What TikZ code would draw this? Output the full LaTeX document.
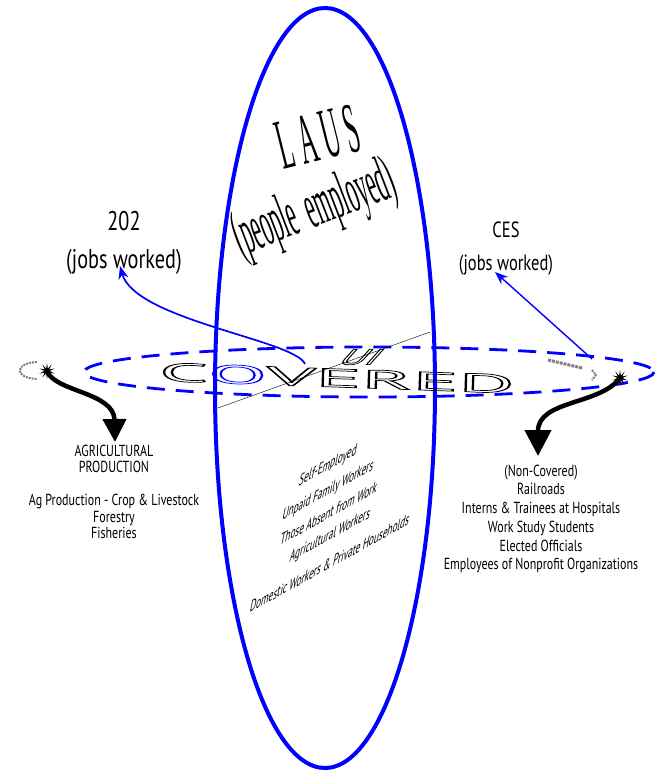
\documentclass[tikz,border=0pt]{standalone}
\usepackage{fontspec}
\setmainfont{PT Sans}
\newfontfamily\narrowsans[FakeStretch=0.75]{PT Sans}
\newfontfamily\tallserif[FakeStretch=0.34]{Liberation Serif}
\newfontfamily\slantsans[FakeStretch=0.62]{PT Sans}
\newcommand{\hollow}[1]{\special{pdf:literal 1 Tr 0.7 w}#1\special{pdf:literal 0 Tr}}
\usepackage{tikz}
\usetikzlibrary{shapes.geometric}
\usetikzlibrary{arrows.meta}

\begin{document}
\begin{tikzpicture}[x=1pt,y=-1pt,
    burst/.style={star, star points=10, star point ratio=3, fill=black, inner sep=0pt, minimum size=16pt},
    lowlabel/.style={font=\narrowsans\fontsize{16}{16.5}\selectfont, align=center},
    slanted/.style={cm={0.875,0.485,0.2,0.98,(0,0)}, font=\slantsans\fontsize{17}{17}\selectfont},
    bluearrow/.style={blue, line width=1.7pt, -{Stealth[length=13pt,width=10pt]}},
    blackarrow/.style={line width=4.5pt, -{Triangle[width=23pt,length=23pt]}}]
  \useasboundingbox (0,0) rectangle (657,779);
  % UI covered plane and LAUS ellipse
  \draw[blue, line width=2.8pt, dash pattern=on 18pt off 11pt] (369,372) ellipse [x radius=285, y radius=25];
  \draw[blue, line width=4pt] (325,388) ellipse [x radius=110, y radius=380];
  \coordinate (cutA) at (218,408);
  \coordinate (cutB) at (430,332);
  \draw[thin] (cutA) -- (cutB);
  % grey shadow bits
  \draw[gray, line width=2pt, densely dotted] (37,362) .. controls (14,363) and (14,378) .. (37,379);
  \draw[gray, line width=3pt, densely dotted] (548,360) -- (582,368);
  \draw[gray, line width=2pt, densely dotted] (592,370) -- (596,375) -- (592,380);

  \node (covered) at (337,378) [rotate=-2] {\fontsize{26}{26}\selectfont\scalebox{3.3}[1]{\hollow{C\textcolor{blue}{O}VERED}}};
  \node (ui) at (362,357) [xslant=0.9] {\fontsize{22}{22}\selectfont\scalebox{1.8}[1]{\hollow{UI}}};

  \node[font=\tallserif\fontsize{72}{72}\selectfont, rotate=14] (laus) at (318,137) {L A U S};
  \node[font=\tallserif\fontsize{64}{64}\selectfont, rotate=21] (employed) at (315,211) {(people\ \ employed)};

  \node[font=\narrowsans\fontsize{27}{38}\selectfont, align=center] (lbl202) at (124,243) {202\\(jobs worked)};
  \node[font=\narrowsans\fontsize{22}{33}\selectfont, align=center] (lblces) at (506,249) {CES\\(jobs worked)};

  \coordinate (from202) at (305,364);
  \coordinate (to202) at (120,266);
  \coordinate (fromces) at (592,359);
  \coordinate (toces) at (495,272);
  \draw[bluearrow] (from202) .. controls (295,340) and (135,320) .. (to202);
  \draw[bluearrow, line width=1.4pt] (fromces) -- (toces);

  \node[burst] (starL) at (47,371) {};
  \node[burst] (starR) at (620,378) {};
  \coordinate (tipL) at (115,442);
  \coordinate (tipR) at (538,456);
  \draw[blackarrow] (starL.center) .. controls (55,392) and (114,392) .. (tipL);
  \draw[blackarrow, -{Triangle[width=26pt,length=26pt]}] (starR.center) .. controls (600,405) and (538,400) .. (tipR);

  \node[lowlabel] (agri) at (114,492) {AGRICULTURAL\\PRODUCTION\\[16.5pt]Ag Production - Crop \& Livestock\\Forestry\\Fisheries};
  \node[lowlabel, font=\narrowsans\fontsize{16}{18.7}\selectfont] (noncov) at (541,519) {(Non-Covered)\\Railroads\\Interns \& Trainees at Hospitals\\Work Study Students\\Elected Officials\\Employees of Nonprofit Organizations};

  \node[slanted] (self) at (328,466) {Self-Employed};
  \node[slanted] (unpaid) at (328,491) {Unpaid Family Workers};
  \node[slanted] (absent) at (329,513) {Those Absent from Work};
  \node[slanted] (agwork) at (330,536) {Agricultural Workers};
  \node[slanted] (domestic) at (330,563) {Domestic Workers \& Private Households};
\end{tikzpicture}
\end{document}
